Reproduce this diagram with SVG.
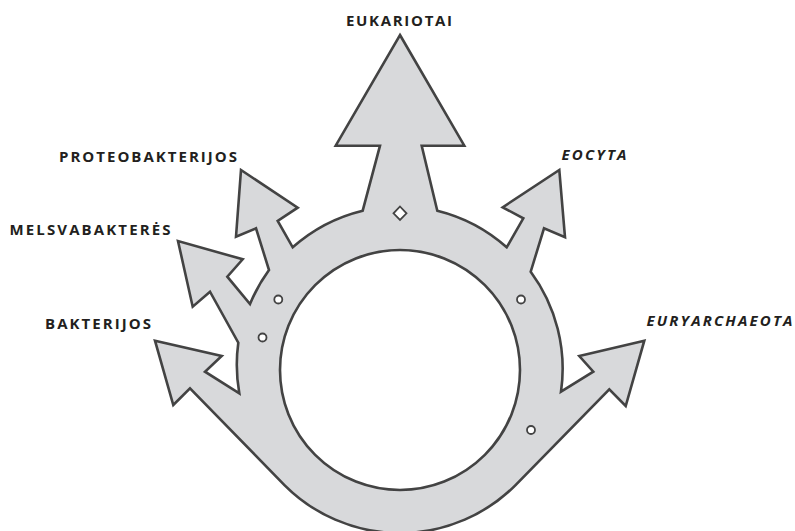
<svg xmlns="http://www.w3.org/2000/svg" width="795" height="531" viewBox="0 0 795 531">
<style>
.shape{fill:#d8d9db;stroke:#434343;stroke-width:2.6;stroke-linejoin:miter;stroke-miterlimit:10}
.hole{fill:#ffffff;stroke:#434343;stroke-width:2.6}
.dot{fill:#ffffff;stroke:#434343;stroke-width:1.8}
.lbl{font-family:"Open Sans","Liberation Sans",sans-serif;font-weight:bold;font-size:15px;fill:#231f20}
.it{font-style:italic}
</style>
<rect width="795" height="531" fill="#ffffff"/>
<g id="tree">
<path class="shape" d="M400,35 L464.3,145.7 L421.7,145.7 L437.3,210.7 A163,163 0 0 1 506.7,247.3 L523.3,218.3 L502.7,207.3 L559.3,170 L565,237.3 L544,228.3 L530.7,271.7 A163,163 0 0 1 561,391.7 L593.3,371.7 L579.3,356 L644.3,340.7 L625.7,406 L609.3,389.3 L515.3,485.3 A163,163 0 0 1 284.7,485.3 L190,388.3 L173.3,405 L155,340.7 L221.7,356 L205,371.7 L239.3,393.3 A163,163 0 0 1 238.3,342.7 L210,291.7 L192.7,306.7 L178,241 L242.7,259.3 L227.3,276.7 L250,304 A163,163 0 0 1 269,270 L256,228.3 L236,236.7 L241,170 L297.7,207.7 L277.7,221 L292.7,247.3 A163,163 0 0 1 362.7,210.7 L380,145.7 L335.7,145.7 Z"/>
<circle class="hole" cx="400" cy="370" r="120"/>
</g>
<g id="markers">
<path class="dot" d="M400,206.5 L406.5,213.3 L400,220 L393.5,213.3 Z"/>
<circle class="dot" cx="278.3" cy="299.5" r="4"/>
<circle class="dot" cx="262.5" cy="337.5" r="4"/>
<circle class="dot" cx="521" cy="299.5" r="4"/>
<circle class="dot" cx="531" cy="430" r="4"/>
</g>
<g id="labels">
<text id="eukariotai" class="lbl" x="346" y="25.5" textLength="106" lengthAdjust="spacing">EUKARIOTAI</text>
<text id="proteobakterijos" class="lbl" x="59" y="162" textLength="178" lengthAdjust="spacing">PROTEOBAKTERIJOS</text>
<text id="melsvabakteres" class="lbl" x="9.5" y="234.5" textLength="161" lengthAdjust="spacing">MELSVABAKTERĖS</text>
<text id="bakterijos" class="lbl" x="45" y="329" textLength="106" lengthAdjust="spacing">BAKTERIJOS</text>
<text id="eocyta" class="lbl it" x="561.5" y="159.5" textLength="65" lengthAdjust="spacing">EOCYTA</text>
<text id="euryarchaeota" class="lbl it" x="646.5" y="326" textLength="146" lengthAdjust="spacing">EURYARCHAEOTA</text>
</g>
<g id="connectors"></g>
</svg>
